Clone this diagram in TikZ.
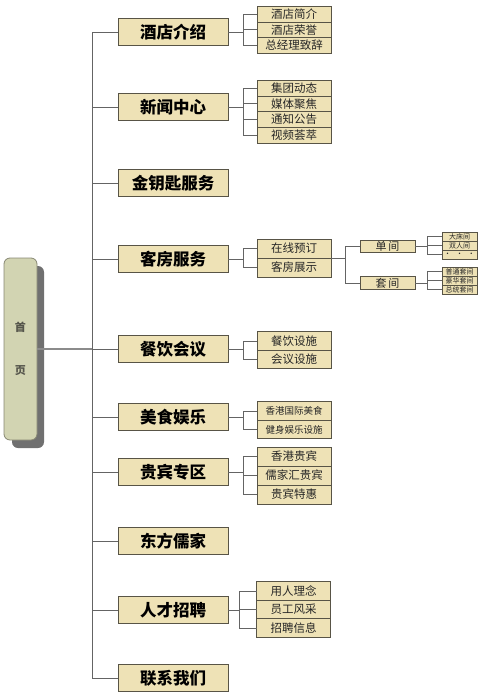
\documentclass[tikz,border=0pt]{standalone}
\usepackage{fontspec}
\newfontfamily\cjk{Noto Sans CJK SC}
\usetikzlibrary{positioning}
\definecolor{boxfill}{RGB}{238,226,182}
\definecolor{boxline}{RGB}{88,84,70}
\definecolor{linkclr}{RGB}{100,100,100}
\definecolor{homefill}{RGB}{210,212,178}
\definecolor{homeline}{RGB}{135,135,115}
\definecolor{shadowclr}{RGB}{112,112,112}
\definecolor{hometext}{RGB}{85,85,75}
\tikzset{
  % main column boxes
  mainbox/.style = {draw=boxline, fill=boxfill, line width=0.8pt, outer sep=0pt,
                    minimum width=110pt, minimum height=27pt, inner sep=0pt,
                    font=\cjk\bfseries\fontsize{16.5}{16.5}\selectfont},
  % second level boxes
  subbox/.style  = {draw=boxline, fill=boxfill, line width=0.6pt, outer sep=0pt,
                    minimum width=74pt, inner sep=0pt, text=black!85,
                    font=\cjk\fontsize{11.5}{11.5}\selectfont},
  smalltxt/.style = {font=\cjk\fontsize{9.5}{9.5}\selectfont},
  % third and fourth level boxes
  midbox/.style  = {draw=boxline, fill=boxfill, line width=0.6pt, outer sep=0pt,
                    minimum width=55pt, minimum height=12.5pt, inner sep=0pt, text=black!85,
                    font=\cjk\fontsize{11}{11}\selectfont},
  tinybox/.style = {draw=boxline, fill=boxfill, line width=0.5pt, outer sep=0pt,
                    minimum width=35pt, minimum height=9pt, inner sep=0pt, text=black!85,
                    font=\cjk\fontsize{7}{7}\selectfont},
  % home box
  homebox/.style = {draw=homeline, fill=homefill, line width=0.8pt, rounded corners=6pt,
                    minimum width=33pt, minimum height=182pt, inner sep=0pt, outer sep=0pt,
                    align=center, text=hometext, font=\cjk\bfseries\fontsize{11}{13}\selectfont},
  % connectors
  link/.style     = {draw=linkclr, line width=0.7pt},
  homelink/.style = {draw=linkclr!75, line width=1.4pt},
}
\begin{document}
\begin{tikzpicture}[x=1pt,y=-1pt]
  \useasboundingbox (0,0) rectangle (485,697);
  % home box with shadow
  \fill[shadowclr, rounded corners=6pt] (12,266) rectangle (44,448);
  \node[homebox] (home) at (20.5,349) {首\\[30pt]页};
  % main column
  \node[mainbox] (m1)  at (173,32)  {酒店介绍};
  \node[mainbox] (m2)  at (173,107) {新闻中心};
  \node[mainbox] (m3)  at (173,183) {金钥匙服务};
  \node[mainbox] (m4)  at (173,259) {客房服务};
  \node[mainbox] (m5)  at (173,349) {餐饮会议};
  \node[mainbox] (m6)  at (173,417) {美食娱乐};
  \node[mainbox] (m7)  at (173,472) {贵宾专区};
  \node[mainbox] (m8)  at (173,541) {东方儒家};
  \node[mainbox] (m9)  at (173,610) {人才招聘};
  \node[mainbox] (m10) at (173,678) {联系我们};
  % trunk
  \coordinate (t1)  at (92,32);
  \coordinate (t2)  at (92,107);
  \coordinate (t3)  at (92,183);
  \coordinate (t4)  at (92,259);
  \coordinate (t5)  at (92,349);
  \coordinate (t6)  at (92,417);
  \coordinate (t7)  at (92,472);
  \coordinate (t8)  at (92,541);
  \coordinate (t9)  at (92,610);
  \coordinate (t10) at (92,678);
  \draw[homelink] (home.east) -- (t5);
  \draw[link] (t1) -- (t10);
  \draw[link] (t1) -- (m1.west);
  \draw[link] (t2) -- (m2.west);
  \draw[link] (t3) -- (m3.west);
  \draw[link] (t4) -- (m4.west);
  \draw[link] (t5) -- (m5.west);
  \draw[link] (t6) -- (m6.west);
  \draw[link] (t7) -- (m7.west);
  \draw[link] (t8) -- (m8.west);
  \draw[link] (t9) -- (m9.west);
  \draw[link] (t10) -- (m10.west);
  % 酒店介绍
  \node[subbox, minimum height=15.7pt] (j1) at (294,14) {酒店简介};
  \node[subbox, minimum height=15.7pt, below=0pt of j1] (j2) {酒店荣誉};
  \node[subbox, minimum height=15.7pt, below=0pt of j2] (j3) {总经理致辞};
  \coordinate (bj) at (243,32);
  \draw[link] (m1.east) -- (bj);
  \draw[link] (bj) |- (j1.west);
  \draw[link] (bj) |- (j2.west);
  \draw[link] (bj) |- (j3.west);
  % 新闻中心
  \node[subbox, minimum height=15.7pt] (x1) at (294,88) {集团动态};
  \node[subbox, minimum height=15.7pt, below=0pt of x1] (x2) {媒体聚焦};
  \node[subbox, minimum height=15.7pt, below=0pt of x2] (x3) {通知公告};
  \node[subbox, minimum height=15.7pt, below=0pt of x3] (x4) {视频荟萃};
  \coordinate (bx) at (243,107);
  \draw[link] (m2.east) -- (bx);
  \draw[link] (bx) |- (x1.west);
  \draw[link] (bx) |- (x2.west);
  \draw[link] (bx) |- (x3.west);
  \draw[link] (bx) |- (x4.west);
  % 客房服务
  \node[subbox, minimum height=19pt] (k1) at (294,248.5) {在线预订};
  \node[subbox, minimum height=19pt, below=0pt of k1] (k2) {客房展示};
  \coordinate (bk) at (243,259);
  \draw[link] (m4.east) -- (bk);
  \draw[link] (bk) |- (k1.west);
  \draw[link] (bk) |- (k2.west);
  \node[midbox] (dan) at (387.5,246.5) {单\hspace{2pt}间};
  \node[midbox] (tao) at (387.5,283) {套\hspace{2pt}间};
  \coordinate (bk2) at ([xshift=14pt]k1.south east);
  \draw[link] (k1.south east) -- (bk2);
  \draw[link] (bk2) |- (dan.west);
  \draw[link] (bk2) |- (tao.west);
  \node[tinybox] (d1) at (459.5,236.5) {大床间};
  \node[tinybox, below=0pt of d1] (d2) {双人间};
  \node[tinybox, below=0pt of d2] (d3) {·\hspace{5pt}·\hspace{5pt}·};
  \coordinate (bd) at ([xshift=12pt]dan.east);
  \draw[link] (dan.east) -- (bd);
  \draw[link] (bd) |- (d1.west);
  \draw[link] (bd) |- (d2.west);
  \draw[link] (bd) |- (d3.west);
  \node[tinybox] (s1) at (459.5,271.5) {普通套间};
  \node[tinybox, below=0pt of s1] (s2) {豪华套间};
  \node[tinybox, below=0pt of s2] (s3) {总统套间};
  \coordinate (bs) at ([xshift=12pt]tao.east);
  \draw[link] (tao.east) -- (bs);
  \draw[link] (bs) |- (s1.west);
  \draw[link] (bs) |- (s2.west);
  \draw[link] (bs) |- (s3.west);
  % 餐饮会议
  \node[subbox, minimum height=18.5pt] (c1) at (294,341) {餐饮设施};
  \node[subbox, minimum height=18.5pt, below=0pt of c1] (c2) {会议设施};
  \coordinate (bc) at (243,349);
  \draw[link] (m5.east) -- (bc);
  \draw[link] (bc) |- (c1.west);
  \draw[link] (bc) |- (c2.west);
  % 美食娱乐
  \node[subbox, smalltxt, minimum height=18.5pt] (y1) at (294,411) {香港国际美食};
  \node[subbox, smalltxt, minimum height=18.5pt, below=0pt of y1] (y2) {健身娱乐设施};
  \coordinate (by) at (243,417);
  \draw[link] (m6.east) -- (by);
  \draw[link] (by) |- (y1.west);
  \draw[link] (by) |- (y2.west);
  % 贵宾专区
  \node[subbox, minimum height=19pt] (g1) at (294,456.5) {香港贵宾};
  \node[subbox, minimum height=19pt, below=0pt of g1] (g2) {儒家汇贵宾};
  \node[subbox, minimum height=19pt, below=0pt of g2] (g3) {贵宾特惠};
  \coordinate (bg) at (243,472);
  \draw[link] (m7.east) -- (bg);
  \draw[link] (bg) |- (g1.west);
  \draw[link] (bg) |- (g2.west);
  \draw[link] (bg) |- (g3.west);
  % 人才招聘
  \node[subbox, minimum height=18.5pt] (r1) at (293.5,591) {用人理念};
  \node[subbox, minimum height=18.5pt, below=0pt of r1] (r2) {员工风采};
  \node[subbox, minimum height=18.5pt, below=0pt of r2] (r3) {招聘信息};
  \coordinate (br) at (239,610);
  \draw[link] (m9.east) -- (br);
  \draw[link] (br) |- (r1.west);
  \draw[link] (br) |- (r2.west);
  \draw[link] (br) |- (r3.west);
\end{tikzpicture}
\end{document}
